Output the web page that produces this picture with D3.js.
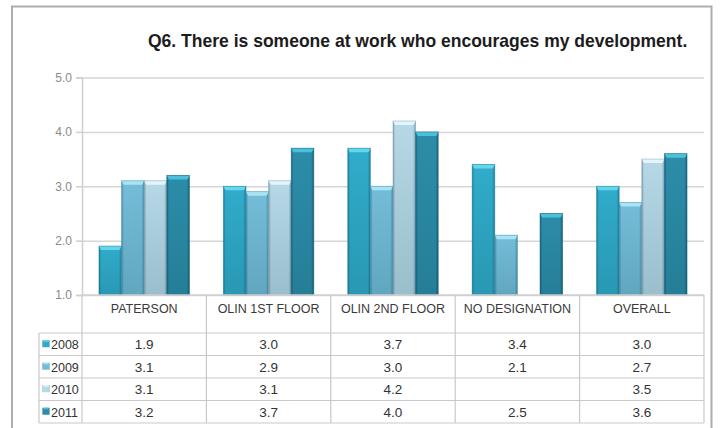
<!DOCTYPE html>
<html>
<head>
<meta charset="utf-8">
<script src="https://cdn.jsdelivr.net/npm/d3@7"></script>
<style>
  body { margin: 0; background: #ffffff; }
  svg { display: block; }
  text { font-family: "Liberation Sans", Arial, sans-serif; }
</style>
</head>
<body>
<svg id="chart" width="720" height="428"></svg>
<script>
// Survey results, question 6, by location and year
const categories = ["PATERSON", "OLIN 1ST FLOOR", "OLIN 2ND FLOOR", "NO DESIGNATION", "OVERALL"];
const years = ["2008", "2009", "2010", "2011"];
const values2008 = [1.9, 3.0, 3.7, 3.4, 3.0];
const values2009 = [3.1, 2.9, 3.0, 2.1, 2.7];
const values2010 = [3.1, 3.1, 4.2, null, 3.5];
const values2011 = [3.2, 3.7, 4.0, 2.5, 3.6];
const tickValues = [1, 2, 3, 4, 5];
const title = "Q6. There is someone at work who encourages my development.";

const seriesValues = [values2008, values2009, values2010, values2011];

// bevelled bar palette per year: cap, body, edge
const palette = [
  { cap: "#66d6ec", body: "#30acca", edge: "#1d7f9b" },
  { cap: "#a8e4f3", body: "#74bdd8", edge: "#4a8eaa" },
  { cap: "#e3f5fb", body: "#b7d9e7", edge: "#7fa2b3" },
  { cap: "#4ac0da", body: "#2c8da9", edge: "#18627b" }
];

const svg = d3.select("#chart");
const plot = { left: 82, right: 704, top: 77.5, bottom: 295 };
const table = { left: 39, headerBottom: 333, rowH: 22.5 };

const x0 = d3.scaleBand().domain(categories).range([plot.left, plot.right]);
const x1 = d3.scaleBand().domain(years).range([0, x0.bandwidth()]).paddingOuter(0.75);
const y = d3.scaleLinear().domain([1, 5]).range([plot.bottom, plot.top]);

// outer frame
svg.append("rect")
  .attr("x", 12).attr("y", 6.5)
  .attr("width", 699.5).attr("height", 440)
  .attr("fill", "none").attr("stroke", "#adadad").attr("stroke-width", 2);

// title
const titleText = svg.append("text")
  .attr("x", 148).attr("y", 47)
  .attr("fill", "#1c1c1c")
  .attr("font-weight", "bold")
  .attr("font-size", 19)
  .text(title);
const tw = titleText.node().getComputedTextLength();
titleText.attr("font-size", 19 * 540 / tw);

// gradients
const defs = svg.append("defs");
palette.forEach((p, i) => {
  const g = defs.append("linearGradient").attr("id", "body" + i)
    .attr("x1", 0).attr("x2", 1).attr("y1", 0).attr("y2", 0);
  g.append("stop").attr("offset", "0%").attr("stop-color", p.edge);
  g.append("stop").attr("offset", "10%").attr("stop-color", p.body);
  g.append("stop").attr("offset", "88%").attr("stop-color", p.body);
  g.append("stop").attr("offset", "100%").attr("stop-color", p.edge);
});
const shade = defs.append("linearGradient").attr("id", "shade")
  .attr("x1", 0).attr("x2", 0).attr("y1", 0).attr("y2", 1);
shade.append("stop").attr("offset", "0%").attr("stop-color", "#003040").attr("stop-opacity", 0);
shade.append("stop").attr("offset", "100%").attr("stop-color", "#003040").attr("stop-opacity", 0.16);

// gridlines
svg.append("g")
  .attr("transform", `translate(${plot.left},0)`)
  .call(d3.axisLeft(y).tickValues(tickValues).tickSize(-(plot.right - plot.left)).tickFormat(""))
  .call(g => g.select(".domain").remove())
  .call(g => g.selectAll("line").attr("stroke", "#d6d6d6").attr("stroke-width", 1.5));

// y axis with outward ticks
svg.append("g")
  .attr("transform", `translate(${plot.left},0)`)
  .call(d3.axisLeft(y).tickValues(tickValues).tickSize(6).tickPadding(4).tickFormat(d3.format(".1f")))
  .call(g => g.select(".domain").attr("stroke", "#cfcfcf").attr("stroke-width", 1.5))
  .call(g => g.selectAll("line").attr("stroke", "#cfcfcf").attr("stroke-width", 1.5))
  .call(g => g.selectAll("text").attr("fill", "#8a8a8a").attr("font-size", 12)
    .attr("font-family", "'Liberation Sans', Arial, sans-serif"));

// bars
const barData = [];
years.forEach((yr, s) => {
  categories.forEach((c, i) => {
    const v = seriesValues[s][i];
    if (v != null) barData.push({ yr, s, c, v });
  });
});

const bars = svg.append("g").selectAll("g.bar").data(barData).join("g").attr("class", "bar");
bars.each(function (d) {
  const g = d3.select(this);
  const bx = x0(d.c) + x1(d.yr);
  const bw = x1.bandwidth();
  const top = y(d.v);
  const h = plot.bottom - top;
  const p = palette[d.s];
  g.append("rect").attr("x", bx).attr("y", top).attr("width", bw).attr("height", h)
    .attr("fill", `url(#body${d.s})`);
  g.append("rect").attr("x", bx).attr("y", top).attr("width", bw).attr("height", h)
    .attr("fill", "url(#shade)");
  const cap = 4, inset = 2;
  g.append("polygon")
    .attr("points", [[bx, top], [bx + bw, top], [bx + bw - inset, top + cap], [bx + inset, top + cap]].map(q => q.join(",")).join(" "))
    .attr("fill", p.cap);
  g.append("rect").attr("x", bx).attr("y", top).attr("width", bw).attr("height", h)
    .attr("fill", "none").attr("stroke", p.edge).attr("stroke-opacity", 0.6).attr("stroke-width", 0.8);
});

// data table
const lineColor = "#c9c9c9";
const tableBottom = table.headerBottom + table.rowH * years.length;
const tg = svg.append("g");

// horizontal rules
tg.append("line").attr("x1", plot.left).attr("x2", plot.right)
  .attr("y1", plot.bottom).attr("y2", plot.bottom).attr("stroke", "#cfcfcf").attr("stroke-width", 1.5);
d3.range(years.length + 1).forEach(k => {
  const yy = table.headerBottom + k * table.rowH;
  tg.append("line").attr("x1", table.left).attr("x2", plot.right)
    .attr("y1", yy).attr("y2", yy).attr("stroke", lineColor).attr("stroke-width", 1.2);
});
// vertical rules
const colEdges = categories.map(c => x0(c)).concat([plot.right]);
colEdges.forEach(xx => {
  tg.append("line").attr("x1", xx).attr("x2", xx)
    .attr("y1", plot.bottom).attr("y2", tableBottom).attr("stroke", lineColor).attr("stroke-width", 1.2);
});
tg.append("line").attr("x1", table.left).attr("x2", table.left)
  .attr("y1", table.headerBottom).attr("y2", tableBottom).attr("stroke", lineColor).attr("stroke-width", 1.2);

// category header labels
tg.selectAll("text.cat").data(categories).join("text").attr("class", "cat")
  .attr("x", c => x0(c) + x0.bandwidth() / 2)
  .attr("y", 313)
  .attr("text-anchor", "middle")
  .attr("font-size", 12.5)
  .attr("fill", "#3a3a3a")
  .text(c => c);

// rows: legend key, year label, values
years.forEach((yr, s) => {
  const cy = table.headerBottom + s * table.rowH + table.rowH / 2;
  const p = palette[s];
  tg.append("rect").attr("x", 42.5).attr("y", cy - 4).attr("width", 7).attr("height", 7)
    .attr("fill", `url(#body${s})`);
  tg.append("rect").attr("x", 43.5).attr("y", cy - 4).attr("width", 5).attr("height", 1.5)
    .attr("fill", p.cap);
  tg.append("text").attr("x", 51).attr("y", cy + 5)
    .attr("font-size", 12.5).attr("fill", "#333333").text(yr);
  categories.forEach((c, i) => {
    const v = seriesValues[s][i];
    if (v == null) return;
    tg.append("text")
      .attr("x", x0(c) + x0.bandwidth() / 2)
      .attr("y", cy + 5)
      .attr("text-anchor", "middle")
      .attr("font-size", 13.5)
      .attr("fill", "#333333")
      .text(d3.format(".1f")(v));
  });
});
</script>
</body>
</html>
